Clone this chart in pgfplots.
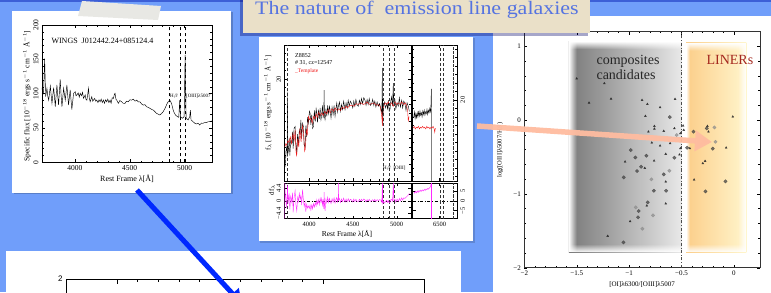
\documentclass[border=0pt]{standalone}
\usepackage{pgfplots}
\pgfplotsset{compat=1.18}
\usepackage{fontspec}
\setmainfont{Liberation Serif}
\newfontfamily\sansf{Liberation Sans}
\usetikzlibrary{arrows.meta,fadings}
\definecolor{bgblue}{RGB}{112,158,250}
\definecolor{topbar}{RGB}{60,95,215}
\definecolor{beige}{RGB}{234,224,200}
\definecolor{titleblue}{RGB}{85,115,225}
\definecolor{tape}{RGB}{232,232,228}
\definecolor{salmon}{RGB}{255,188,160}
\definecolor{arrowblue}{RGB}{0,40,255}
\definecolor{linerred}{RGB}{165,40,30}
\definecolor{mag}{RGB}{255,40,255}
\definecolor{tred}{RGB}{240,20,20}
\definecolor{g1}{RGB}{122,122,122}
\definecolor{g2}{RGB}{232,232,232}
\definecolor{o1}{RGB}{252,206,138}
\definecolor{o2}{RGB}{255,246,205}
\tikzfading[name=fL, left color=transparent!0, right color=transparent!100]
\tikzfading[name=fR, left color=transparent!100, right color=transparent!0]
\tikzfading[name=fT, top color=transparent!0, bottom color=transparent!100]
\tikzfading[name=fB, top color=transparent!100, bottom color=transparent!0]
\newcommand\fs[1]{\fontsize{#1}{#1}\selectfont}
\pgfplotsset{
  spec/.style={scale only axis, axis line style={line width=0.4pt}, tick style={line width=0.3pt,black},
    /pgf/number format/assume math mode=true, /pgf/number format/1000 sep={},
    major tick length=3pt, minor tick length=1.6pt},
}
\begin{document}
\begin{tikzpicture}[x=1pt,y=1pt]
\begin{scope}
\clip (0,0) rectangle (771,292);
\fill[bgblue] (0,0) rectangle (771,292);
\fill[topbar] (0,289.5) rectangle (771,292);
% white panels
\fill[white] (493,0) rectangle (771,276);
\fill[black,opacity=0.2] (13.5,97.5) rectangle (232.5,279.5);
\fill[white] (12,99) rectangle (231,281);
\fill[black,opacity=0.15] (260,49.5) rectangle (474.5,253.5);
\fill[white] (259,51) rectangle (473,255);
\fill[white] (6,0) rectangle (461,41);

% ---------------- Panel 1 ----------------
\begin{axis}[spec, at={(42pt,129.7pt)}, anchor=south west, width=170pt, height=137.3pt,
  xmin=3700, xmax=5250, ymin=0, ymax=200,
  xtick={4000,4500,5000}, minor x tick num=4,
  ytick={0,50,100,150,200}, minor y tick num=4,
  tick label style={font=\fs{7.5}},
  yticklabel style={rotate=90,anchor=south}]
\addplot[black, line width=0.45pt] coordinates {
(3700,108.3)(3708,99)(3715,103.4)(3724,150.9)(3733,95.6)(3745,107.8)(3753,96)(3761,90.6)(3776,111.1)(3784,97)
(3791,85.9)(3806,108.8)(3814,95)(3821,81.0)(3836,112.6)(3844,96)(3851,83.5)(3866,120.9)(3874,98)(3882,81.0)
(3897,107.8)(3912,90.6)(3927,112.6)(3942,83.5)(3957,105.4)(3972,76.9)(3988,100.5)(4003,102.9)(4010,97)(4018,98.1)
(4030,101)(4040,95)(4048,100.5)(4060,97)(4070,102)(4078,93.2)(4094,98.1)(4100,92)(4109,90.6)(4117,99)(4124,107.8)
(4131,94)(4139,88.2)(4154,95.6)(4162,89)(4169,90.6)(4180,93)(4190,89)(4199,90.6)(4210,87)(4220,91)(4230,88.2)
(4240,92)(4250,87)(4260,90.6)(4270,86)(4280,91)(4290,88.2)(4300,92)(4310,87)(4321,90.6)(4330,86)(4340,94)(4351,93.0)
(4360,99)(4366,100.5)(4374,92)(4381,90.6)(4390,88)(4396,85.9)(4410,90)(4426,88.2)(4440,86)(4457,85.9)(4470,89)
(4487,88.2)(4500,91)(4517,90.6)(4532,92.0)(4548,89)(4563,90.6)(4578,88)(4593,88.2)(4608,85)(4623,83.3)(4638,84)
(4653,81.0)(4668,80)(4684,78.6)(4700,77)(4714,76.1)(4728,74)(4744,71.3)(4760,70)(4775,68.9)(4790,71)(4805,73.8)
(4820,78)(4835,83.5)(4850,88.2)(4865,90.6)(4881,85.9)(4896,76.1)(4906,72)(4917,68.9)(4935,66.5)(4947,65.5)
(4956,90.6)(4962,66.5)(4980,64.1)(4996,66.5)(5005,156.2)(5014,64.1)(5032,61.7)(5047,66.5)(5053,76.1)(5059,61.7)
(5077,59.2)(5092,57)(5108,55.8)(5123,57)(5138,54.4)(5153,57)(5168,56.8)(5183,58)(5198,57.8)(5213,59)(5229,59.2)(5250,60.2)};
\draw[black, dashed, line width=0.3pt] (axis cs:4860,0) -- (axis cs:4860,200);
\draw[black, dashed, line width=0.3pt] (axis cs:4960,0) -- (axis cs:4960,200);
\draw[black, dashed, line width=0.3pt] (axis cs:5005,0) -- (axis cs:5005,200);
\end{axis}
\node[anchor=west, font=\fs{8}] at (48,251) {WINGS\ \ J012442.24+085124.4};
\node[anchor=west, font=\fs{5}, inner sep=0pt] at (170,196) {H$\beta$};
\node[anchor=west, font=\fs{5}, inner sep=0pt] at (186,196) {[OIII]λ5007};
\node[rotate=90, font=\fs{7.5}] at (27,196) {Specific flux [10$^{-18}$ ergs s$^{-1}$ cm$^{-1}$ Å$^{-1}$]};
\node[font=\fs{8}] at (127,113) {Rest Frame λ[Å]};

% ---------------- Panel 2 main ----------------
\begin{axis}[spec, at={(284.5pt,111pt)}, anchor=south west, width=126.5pt, height=136pt,
  xmin=3719, xmax=5163, ymin=8, ymax=24,
  xtick={4000,4500,5000}, xticklabels={}, minor x tick num=4,
  ytick={20}, minor ytick={9,10,...,23},
  tick label style={font=\fs{6.5}}, yticklabel style={rotate=90,anchor=south}]
\addplot[black, line width=0.4pt] coordinates {
(3722,10.5)(3726,9.7)(3735,11.5)(3745,12.0)(3750,10.8)(3753,18.5)(3757,11.2)(3764,11.6)(3772,13.0)(3780,11.0)
(3790,12.8)(3802,12.4)(3810,13.8)(3818,11.8)(3828,14.2)(3840,14.4)(3848,12.5)(3859,11.3)(3868,13.5)(3878,12.2)
(3888,14.0)(3897,13.6)(3906,15.2)(3915,13.0)(3925,14.8)(3935,14.4)(3944,12.2)(3954,12.0)(3962,14.5)(3972,13.2)
(3982,15.5)(3992,14.8)(4003,16.2)(4011,16.0)(4020,14.6)(4030,15.8)(4040,14.2)(4049,14.4)(4060,16.3)(4070,15.0)
(4080,16.5)(4087,16.0)(4096,14.9)(4106,16.4)(4116,15.3)(4126,16.6)(4135,15.2)(4144,15.8)(4152,16.9)(4160,15.4)
(4168,16.2)(4171,18.7)(4175,15.6)(4182,15.2)(4192,16.5)(4202,15.6)(4212,16.9)(4222,15.9)(4232,16.8)(4239,16.4)
(4250,15.4)(4262,16.7)(4274,15.8)(4285,16.9)(4296,15.6)(4306,16.5)(4316,17.2)(4325,16.1)(4334,16.8)(4346,17.3)
(4358,16.2)(4370,17.0)(4382,16.4)(4394,17.4)(4410,16.4)(4422,17.2)(4434,16.6)(4446,17.5)(4458,16.8)(4470,17.4)
(4486,17.1)(4498,16.6)(4510,17.4)(4522,16.8)(4534,17.6)(4548,16.9)(4562,16.8)(4574,17.5)(4586,17.0)(4598,17.7)
(4610,17.1)(4624,17.8)(4638,17.5)(4650,16.9)(4662,17.6)(4674,17.0)(4686,17.7)(4700,16.9)(4714,17.1)(4726,17.6)
(4738,16.9)(4750,17.4)(4762,16.7)(4776,17.3)(4790,16.8)(4805,17.1)(4821,16.4)(4830,16.0)(4836,21.3)(4840,14.6)
(4847,16.8)(4858,17.3)(4870,16.6)(4885,17.1)(4895,16.5)(4904,17.5)(4914,16.2)(4923,16.4)(4932,17.4)(4942,17.9)
(4952,16.8)(4961,19.5)(4966,17.0)(4980,17.5)(4990,16.5)(5004,17.2)(5018,16.8)(5030,17.8)(5042,16.7)(5056,17.5)
(5068,16.6)(5080,17.4)(5094,17.1)(5106,16.3)(5118,17.2)(5132,16.8)(5144,16.2)};
\addplot[tred, line width=0.4pt] coordinates {
(3722,12.0)(3735,12.4)(3745,12.2)(3758,12.8)(3770,12.5)(3785,13.2)(3800,12.4)(3815,13.6)(3830,12.8)(3840,14.0)
(3850,11.5)(3858,10.9)(3870,13.0)(3882,12.0)(3895,14.2)(3908,12.6)(3922,14.5)(3935,13.8)(3948,11.5)(3958,11.8)
(3968,14.0)(3980,13.5)(3992,15.6)(4005,15.2)(4020,15.4)(4035,14.8)(4050,15.6)(4065,15.3)(4080,15.9)(4095,15.5)
(4110,16.1)(4125,15.7)(4144,16.0)(4160,15.7)(4180,16.2)(4200,15.9)(4220,16.4)(4240,16.0)(4260,16.5)(4280,16.2)
(4300,16.6)(4320,16.3)(4340,16.5)(4360,16.3)(4380,16.7)(4400,16.5)(4420,16.8)(4440,16.6)(4460,16.9)(4486,16.9)
(4510,16.8)(4540,17.1)(4562,17.0)(4590,17.2)(4620,17.0)(4638,17.1)(4660,17.3)(4690,17.0)(4714,17.1)(4740,17.2)
(4770,16.9)(4790,17.0)(4810,16.8)(4821,16.2)(4830,15.5)(4836,14.5)(4842,16.0)(4850,16.9)(4870,17.2)(4885,17.0)
(4904,17.3)(4920,16.9)(4942,17.2)(4961,16.8)(4980,17.3)(5000,17.0)(5018,17.2)(5040,17.0)(5056,17.3)(5080,17.0)
(5100,17.2)(5115,16.8)(5125,16.2)(5132,15.0)(5140,15.6)};
\foreach \xv in {3745,4840,4916,4965}{\edef\tmp{\noexpand\draw[black!80, densely dashed, line width=0.3pt] (axis cs:\xv,8) -- (axis cs:\xv,24);}\tmp}
\end{axis}
% ---------------- Panel 2 side ----------------
\begin{axis}[spec, at={(412.5pt,111pt)}, anchor=south west, width=44.5pt, height=136pt,
  xmin=6190, xmax=6700, ymin=10.47, ymax=26.47,
  xtick={6500}, xticklabels={}, minor x tick num=4,
  ytick={20}, minor ytick={11,12,...,26}, yticklabel pos=right,
  tick label style={font=\fs{6.5}}, yticklabel style={rotate=90,anchor=north}]
\addplot[black, line width=0.4pt] coordinates {
(6205,18.0)(6212,18.6)(6220,17.8)(6228,18.4)(6236,17.9)(6244,18.5)(6252,18.0)(6260,18.6)(6268,18.1)(6276,18.7)
(6284,18.2)(6292,18.5)(6300,18.0)(6308,18.7)(6316,18.3)(6324,18.8)(6332,18.2)(6340,18.6)(6348,18.4)(6356,18.9)
(6364,18.3)(6372,18.8)(6380,18.5)(6388,19.0)(6396,18.6)(6402,19.5)(6406,21.3)(6408,18.9)};
\addplot[black!50, line width=0.8pt] coordinates {(6409,18.9)(6409,10.47)};
\addplot[tred, line width=0.4pt] coordinates {
(6198,16.7)(6210,16.9)(6222,16.6)(6234,16.8)(6246,16.7)(6258,16.9)(6270,16.6)(6282,16.8)(6294,16.7)(6306,16.9)
(6318,16.7)(6330,16.8)(6342,16.6)(6354,16.9)(6366,16.7)(6378,16.8)(6390,16.6)(6402,16.8)(6414,16.7)(6426,16.9)
(6438,16.6)(6445,16.2)(6452,16.7)};
\draw[black!80, densely dashed, line width=0.3pt] (axis cs:6508,10.47) -- (axis cs:6508,26.47);
\draw[black!80, densely dashed, line width=0.3pt] (axis cs:6546,10.47) -- (axis cs:6546,26.47);
\draw[black!80, densely dotted, line width=0.3pt] (axis cs:6660,10.47) -- (axis cs:6660,26.47);
\end{axis}
% ---------------- Panel 2 residual main ----------------
\begin{axis}[spec, at={(284.5pt,73.5pt)}, anchor=south west, width=126.5pt, height=35.5pt,
  xmin=3719, xmax=5163, ymin=-6.1, ymax=6.1,
  xtick={4000,4500,5000}, minor x tick num=4,
  ytick={-4.4,0,4.4}, yticklabels={−4.4,0,4.4}, minor ytick={-2.2,2.2},
  tick label style={font=\fs{6.5}}, yticklabel style={rotate=90,anchor=south}]
\draw[black, dash dot, line width=0.3pt] (axis cs:3719,0) -- (axis cs:5163,0);
\foreach \xv in {3745,4840,4916,4965}{\edef\tmp{\noexpand\draw[black!80, densely dashed, line width=0.3pt] (axis cs:\xv,-6.1) -- (axis cs:\xv,6.1);}\tmp}
\addplot[mag, line width=0.4pt] coordinates {
(3722,-6.1)(3723,6.1)(3726,3.0)(3735,1.0)(3745,-2.5)(3753,5.5)(3760,-1)(3772,2.5)(3780,-3)(3790,1.5)(3802,-0.5)
(3810,2.8)(3818,-4.0)(3828,1.0)(3840,3.5)(3850,-1.5)(3859,-3.5)(3870,1.2)(3878,-0.2)(3888,2.5)(3897,0.5)(3906,1.8)
(3915,-1.5)(3925,3.8)(3935,0.2)(3944,-2.0)(3954,-0.5)(3962,-3.8)(3972,-1.2)(3982,-2.5)(3992,-1.8)(4003,-2.6)
(4011,-1.5)(4020,-3.2)(4030,-1.4)(4040,-2.8)(4049,-1.0)(4060,-2.2)(4070,-0.6)(4080,-1.8)(4087,0.3)(4096,-1.2)
(4106,0.4)(4116,-1.4)(4126,0.9)(4135,-0.6)(4144,0.8)(4152,-1.5)(4160,0.5)(4168,-2.8)(4171,3.0)(4175,-0.5)
(4182,-3.5)(4192,0.6)(4202,-0.8)(4212,1.2)(4222,-0.6)(4232,0.8)(4250,-1.0)(4262,0.7)(4274,-0.5)(4285,1.0)
(4296,-0.8)(4306,0.4)(4316,1.1)(4325,-0.4)(4332,1.0)(4334,6.1)(4337,0.2)(4346,0.8)(4358,-0.6)(4370,0.6)(4382,-0.3)
(4394,0.9)(4410,-0.5)(4422,0.6)(4434,-0.4)(4446,0.7)(4458,-0.2)(4470,0.5)(4486,0.2)(4498,-0.4)(4510,0.6)(4522,-0.3)
(4534,0.5)(4548,-0.2)(4562,-0.3)(4574,0.5)(4586,-0.1)(4598,0.5)(4610,0.0)(4624,0.6)(4638,0.3)(4650,-0.4)(4662,0.4)
(4674,-0.1)(4686,0.5)(4700,-0.2)(4714,0.0)(4726,0.4)(4738,-0.2)(4750,0.5)(4762,-0.3)(4776,0.4)(4790,0.0)(4805,0.4)
(4821,0.2)(4830,-0.5)(4836,6.1)(4838,6.1)(4840,-1.0)(4847,-0.2)(4858,-0.8)(4870,-0.4)(4885,0.2)(4895,-0.6)(4904,0.1)
(4914,-0.8)(4923,-0.6)(4932,0.4)(4942,0.5)(4952,-0.2)(4961,6.1)(4963,6.1)(4966,0.0)(4980,0.6)(4990,-0.5)(5004,0.6)
(5018,-0.2)(5030,0.8)(5042,0.0)(5056,1.0)(5068,0.2)(5080,1.0)(5094,0.8)(5106,1.2)(5118,1.5)(5132,2.0)(5144,2.5)};
\end{axis}
% ---------------- Panel 2 residual side ----------------
\begin{axis}[spec, at={(412.5pt,73.5pt)}, anchor=south west, width=44.5pt, height=35.5pt,
  xmin=6190, xmax=6700, ymin=-9, ymax=9,
  xtick={6500}, minor x tick num=4,
  ytick={-5,0,5}, yticklabels={−5,0,5}, yticklabel pos=right,
  tick label style={font=\fs{6.5}}, yticklabel style={rotate=90,anchor=north}]
\draw[black, dash dot, line width=0.3pt] (axis cs:6190,0) -- (axis cs:6700,0);
\draw[black!80, densely dashed, line width=0.3pt] (axis cs:6508,-9) -- (axis cs:6508,9);
\draw[black!80, densely dashed, line width=0.3pt] (axis cs:6546,-9) -- (axis cs:6546,9);
\draw[black!80, densely dotted, line width=0.3pt] (axis cs:6660,-9) -- (axis cs:6660,9);
\addplot[mag, line width=0.4pt] coordinates {
(6205,4.5)(6215,3.8)(6225,4.8)(6235,4.0)(6245,5.0)(6255,4.2)(6265,5.2)(6275,4.6)(6285,5.4)(6295,4.8)(6305,5.5)
(6315,5.0)(6325,5.8)(6335,5.2)(6345,6.0)(6355,5.6)(6365,6.3)(6375,5.9)(6385,6.6)(6395,7.0)(6403,8.5)(6406,9)};
\addplot[mag, line width=0.5pt] coordinates {(6410,9)(6410,-9)};
\end{axis}
\node[anchor=west, font=\fs{6}, inner sep=0pt] at (295,236) {Z8852};
\node[anchor=west, font=\fs{6}, inner sep=0pt] at (295,229) {\# 31, cz=12547};
\node[anchor=west, font=\fs{5.5}, inner sep=0pt, text=tred] at (295,221) {\_Template};
\node[anchor=west, font=\fs{5}, inner sep=0pt] at (383,124) {H$\beta$\ \ [OIII]};
\node[rotate=90, font=\fs{7}] at (268,189) {f$_\lambda$ [10$^{-18}$ ergs s$^{-1}$ cm$^{-1}$ Å$^{-1}$]};
\node[rotate=90, font=\fs{7}] at (272,102) {df$_\lambda$};
\node[font=\fs{7.5}] at (347,58) {Rest Frame λ[Å]};

% ---------------- Panel 3 ----------------
\begin{axis}[spec, at={(524.3pt,24.3pt)}, anchor=south west, width=235.7pt, height=236pt,
  xmin=-2, xmax=0.25, ymin=-2, ymax=1.195,
  xtick={-2,-1.5,-1,-0.5,0}, xticklabels={−2,−1.5,−1,−0.5,0}, minor x tick num=4,
  ytick={-2,-1,0,1}, yticklabels={−2,−1,0,1}, minor y tick num=4,
  tick label style={font=\fs{7}}, axis line style={line width=0.5pt, black!80}]
\fill[left color=g1, right color=g2] (axis cs:-1.575,-1.79) rectangle (axis cs:-0.5,1.065);
\fill[white, path fading=fL] (axis cs:-1.575,-1.79) rectangle (axis cs:-1.50,1.065);
\fill[white, path fading=fT] (axis cs:-1.575,0.96) rectangle (axis cs:-0.5,1.065);
\fill[white, path fading=fB] (axis cs:-1.575,-1.79) rectangle (axis cs:-0.5,-1.68);
\fill[left color=o1, right color=o2] (axis cs:-0.455,-1.79) rectangle (axis cs:0.12,1.045);
\fill[white, path fading=fL] (axis cs:-0.455,-1.79) rectangle (axis cs:-0.42,1.045);
\fill[white, path fading=fR] (axis cs:0.04,-1.79) rectangle (axis cs:0.12,1.045);
\fill[white, path fading=fT] (axis cs:-0.455,0.94) rectangle (axis cs:0.12,1.045);
\fill[white, path fading=fB] (axis cs:-0.455,-1.79) rectangle (axis cs:0.12,-1.68);
\draw[black!70, dash dot, line width=0.4pt] (axis cs:-0.5,-2) -- (axis cs:-0.5,1.195);
\addplot[only marks, mark=triangle*, mark size=1.1pt, black!85, opacity=0.8] coordinates {
(-1.50,0.56)(-1.236,0.495)(-1.382,0.233)(-1.172,0.287)(-0.876,0.269)(-0.825,0.215)(-0.561,0.283)(-0.704,0.170)
(-0.844,0.053)(-0.758,-0.083)(-0.758,-0.119)(-0.815,-0.159)(-0.669,-0.150)(-0.567,-0.114)(-0.484,-0.078)
(-0.510,-0.182)(-0.783,-0.308)(-0.704,-0.349)(-0.608,-0.317)(-0.510,-0.385)(-0.650,-0.461)(-0.519,-0.470)
(-1.038,-0.565)(-0.761,-0.552)(-0.850,-0.651)(-0.650,-0.836)(-0.650,-1.133)(-0.831,-1.161)(-0.990,-1.373)
(-1.204,-1.571)(-0.478,-0.137)(-0.420,-0.385)(-0.252,-0.083)(-0.242,-0.159)(-0.274,-0.556)(-0.296,-0.588)
(-0.379,-0.809)(-0.073,-0.376)(-0.010,0.044)};
\addplot[only marks, mark=*, mark size=1.7pt, black!75, opacity=0.7] coordinates {
(-0.611,0.039)(-0.984,-0.407)(-0.940,-0.507)(-0.834,-0.484)(-0.567,-0.511)(-0.885,-0.633)(-0.924,-0.691)
(-0.669,-0.737)(-1.051,-0.777)(-0.764,-0.958)(-0.646,-0.958)(-0.822,-1.115)(-0.908,-1.233)(-0.914,-1.318)
(-1.054,-1.657)(-0.385,-0.159)(-0.446,-0.376)(-0.258,-0.114)(-0.201,-0.389)(-0.080,-0.831)(-0.271,-0.967)};
\addplot[only marks, mark=*, mark size=1.7pt, black!45, opacity=0.7] coordinates {
(-0.545,-0.204)(-0.615,-0.687)(-0.787,-0.804)(-0.936,-1.183)(-0.771,-1.291)(-0.873,-1.472)(-0.185,-0.101)(-0.175,-0.295)};
\end{axis}
\node[anchor=base west, font=\fs{14}, text=black!85] at (593,227) {composites};
\node[anchor=base west, font=\fs{14}, text=black!85] at (593,212) {candidates};
\node[anchor=base west, font=\fs{14}, text=linerred] at (703,227) {LINERs};
\node[font=\fs{7}] at (642,7) {[OI]λ6300/[OIII]λ5007};
\node[rotate=90, font=\fs{6.5}] at (500,142) {log([OIII]λ5007/H$\beta$)};

% ---------------- Panel 4 ----------------
\begin{axis}[spec, at={(66pt,13pt)}, anchor=north west, width=358pt, height=100pt,
  xmin=-0.495, xmax=2.98, ymin=-2, ymax=2,
  xtick={0,1,2}, minor x tick num=4, xticklabels={},
  ytick={-2,-1,0,1,2}, yticklabels={,,,,2},
  major tick length=4.5pt, minor tick length=3pt,
  tick label style={font=\sansf\fs{8}}, axis line style={line width=0.6pt}]
\end{axis}

% ---------------- Title, tape, arrows ----------------
\fill[black!60!blue, opacity=0.35] (240,256) rectangle (588,292);
\fill[beige] (243,259) rectangle (590,292);
\node[anchor=base west, inner sep=0pt, text=titleblue] at (255,277) {\scalebox{1.157}[1]{\fs{19}The nature of\ \ emission line galaxies}};
\fill[tape] (82,291) -- (161,286) -- (158,272) -- (78,276) -- cycle;
\draw[arrowblue, line width=5pt, -{Triangle[length=14pt,width=16pt]}] (137,102) -- (242,-12);
\draw[salmon, line width=5.5pt, opacity=0.95, -{Triangle[length=17pt,width=20pt]}] (477,166) -- (712,150);
\end{scope}
\pgfresetboundingbox
\useasboundingbox (0,0) rectangle (771,292);
\end{tikzpicture}
\end{document}
